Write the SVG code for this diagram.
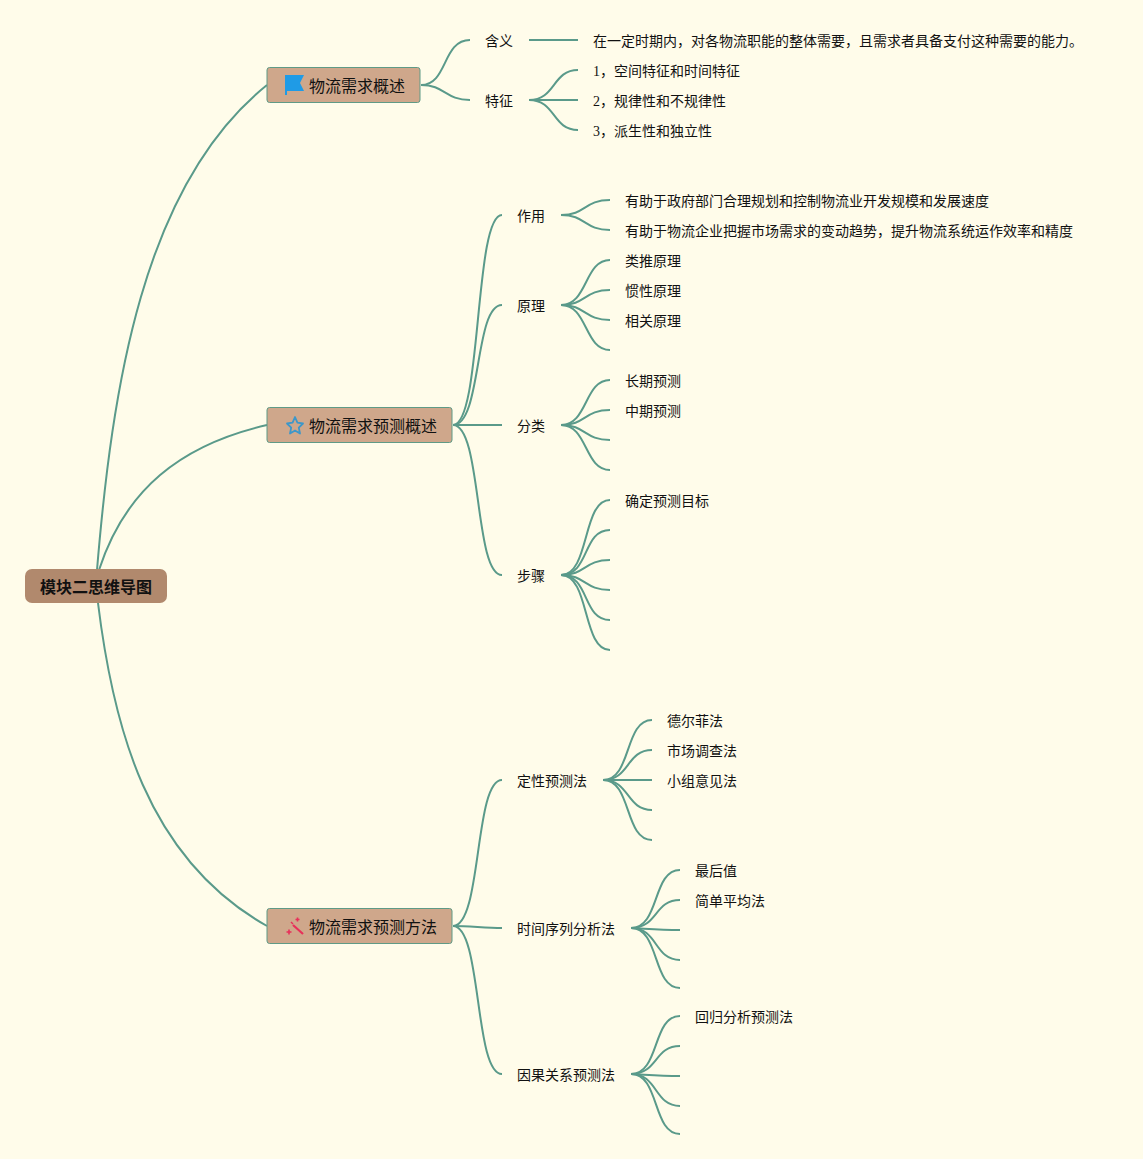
<svg xmlns="http://www.w3.org/2000/svg" width="1143" height="1159" viewBox="0 0 1143 1159">
<style>
text{font-family:"Liberation Serif","Noto Sans CJK SC",serif;fill:#111;dominant-baseline:central}
.t{font-size:14px}
.m{font-size:16px}
.r{font-size:16px;font-weight:700;text-anchor:middle}
.b{fill:#cfa78b;stroke:#5f9a86;stroke-width:1}
#connectors path{fill:none;stroke:#5a9a8a;stroke-width:2}
</style>
<rect width="1143" height="1159" fill="#fffcea"/>
<g id="connectors">
<path d="M97 570C112 390 142 185 267 85"/>
<path d="M99 570C125 490 180 445 267 425"/>
<path d="M98 603C113 725 146 858 267 926"/>
<path d="M421 85C448 85 442 40 470 40"/>
<path d="M421 85C445 85 445 100 470 100"/>
<path d="M529 40H578"/>
<path d="M529 100C556 100 552 70 578 70"/>
<path d="M529 100H578"/>
<path d="M529 100C556 100 552 130 578 130"/>
<path d="M453 425C482 425 474 215 502 215"/>
<path d="M453 425C482 425 474 305 502 305"/>
<path d="M453 425H502"/>
<path d="M453 425C482 425 474 575 502 575"/>
<path d="M561 215C586 215 584 200 610 200"/>
<path d="M561 215C586 215 584 230 610 230"/>
<path d="M561 305C588 305 584 260 610 260"/>
<path d="M561 305C586 305 584 290 610 290"/>
<path d="M561 305C586 305 584 320 610 320"/>
<path d="M561 305C588 305 584 350 610 350"/>
<path d="M561 425C588 425 584 380 610 380"/>
<path d="M561 425C586 425 584 410 610 410"/>
<path d="M561 425C586 425 584 440 610 440"/>
<path d="M561 425C588 425 584 470 610 470"/>
<path d="M561 575C590 575 582 500 610 500"/>
<path d="M561 575C590 575 582 530 610 530"/>
<path d="M561 575C586 575 584 560 610 560"/>
<path d="M561 575C586 575 584 590 610 590"/>
<path d="M561 575C590 575 582 620 610 620"/>
<path d="M561 575C590 575 582 650 610 650"/>
<path d="M453 926C482 926 474 780 502 780"/>
<path d="M453 926C470 926 485 928 502 928"/>
<path d="M453 926C482 926 474 1074 502 1074"/>
<path d="M603 780C632 780 624 720 652 720"/>
<path d="M603 780C630 780 626 750 652 750"/>
<path d="M603 780H652"/>
<path d="M603 780C630 780 626 810 652 810"/>
<path d="M603 780C632 780 624 840 652 840"/>
<path d="M631 928C660 928 652 870 680 870"/>
<path d="M631 928C658 928 654 900 680 900"/>
<path d="M631 928C650 929 660 930 680 930"/>
<path d="M631 928C658 928 654 960 680 960"/>
<path d="M631 928C660 928 652 988 680 988"/>
<path d="M631 1074C660 1074 652 1016 680 1016"/>
<path d="M631 1074C658 1074 654 1046 680 1046"/>
<path d="M631 1074C650 1075 660 1076 680 1076"/>
<path d="M631 1074C658 1074 654 1106 680 1106"/>
<path d="M631 1074C660 1074 652 1134 680 1134"/>
</g>
<g id="root"><rect x="25" y="569" width="142" height="34" rx="7" fill="#b1896d"/><text class="r" x="96" y="587">模块二思维导图</text></g>
<g id="n1"><rect class="b" x="267" y="67.500" width="153" height="35" rx="2.500"/><path d="M285 75H304L300 83L304 91H287V95H285Z" fill="#1f9be6"/><text class="m" x="309" y="86">物流需求概述</text></g>
<g id="n2"><rect class="b" x="267" y="407.500" width="185" height="35" rx="2.500"/><path d="M295 417L297.400 422.700L303 423.500L298.800 427.600L300 433.500L295 430.500L290 433.500L291.200 427.600L287 423.500L292.600 422.700Z" fill="none" stroke="#3d97c9" stroke-width="1.800" stroke-linejoin="round"/><text class="m" x="309" y="426">物流需求预测概述</text></g>
<g id="n3"><rect class="b" x="267" y="908.500" width="185" height="35" rx="2.500"/><path d="M293 925L303 934" stroke="#e8305a" stroke-width="2.200" fill="none"/><path d="M286.500 932h5M289 929.500v5M295.500 919.500h4M297.500 917.500v4" stroke="#e8305a" stroke-width="1.600" fill="none"/><path d="M291 922l2 2" stroke="#e8305a" stroke-width="1.500" fill="none"/><text class="m" x="309" y="927">物流需求预测方法</text></g>
<g id="a1"><text class="t" x="485" y="41">含义</text></g>
<g id="a1-1"><text class="t" x="593" y="41">在一定时期内，对各物流职能的整体需要，且需求者具备支付这种需要的能力。</text></g>
<g id="a2"><text class="t" x="485" y="101">特征</text></g>
<g id="a2-1"><text class="t" x="593" y="71">1，空间特征和时间特征</text></g>
<g id="a2-2"><text class="t" x="593" y="101">2，规律性和不规律性</text></g>
<g id="a2-3"><text class="t" x="593" y="131">3，派生性和独立性</text></g>
<g id="b1"><text class="t" x="517" y="216">作用</text></g>
<g id="b1-1"><text class="t" x="625" y="201">有助于政府部门合理规划和控制物流业开发规模和发展速度</text></g>
<g id="b1-2"><text class="t" x="625" y="231">有助于物流企业把握市场需求的变动趋势，提升物流系统运作效率和精度</text></g>
<g id="b2"><text class="t" x="517" y="306">原理</text></g>
<g id="b2-1"><text class="t" x="625" y="261">类推原理</text></g>
<g id="b2-2"><text class="t" x="625" y="291">惯性原理</text></g>
<g id="b2-3"><text class="t" x="625" y="321">相关原理</text></g>
<g id="b3"><text class="t" x="517" y="426">分类</text></g>
<g id="b3-1"><text class="t" x="625" y="381">长期预测</text></g>
<g id="b3-2"><text class="t" x="625" y="411">中期预测</text></g>
<g id="b4"><text class="t" x="517" y="576">步骤</text></g>
<g id="b4-1"><text class="t" x="625" y="501">确定预测目标</text></g>
<g id="c1"><text class="t" x="517" y="781">定性预测法</text></g>
<g id="c1-1"><text class="t" x="667" y="721">德尔菲法</text></g>
<g id="c1-2"><text class="t" x="667" y="751">市场调查法</text></g>
<g id="c1-3"><text class="t" x="667" y="781">小组意见法</text></g>
<g id="c2"><text class="t" x="517" y="929">时间序列分析法</text></g>
<g id="c2-1"><text class="t" x="695" y="871">最后值</text></g>
<g id="c2-2"><text class="t" x="695" y="901">简单平均法</text></g>
<g id="c3"><text class="t" x="517" y="1075">因果关系预测法</text></g>
<g id="c3-1"><text class="t" x="695" y="1017">回归分析预测法</text></g>
</svg>
